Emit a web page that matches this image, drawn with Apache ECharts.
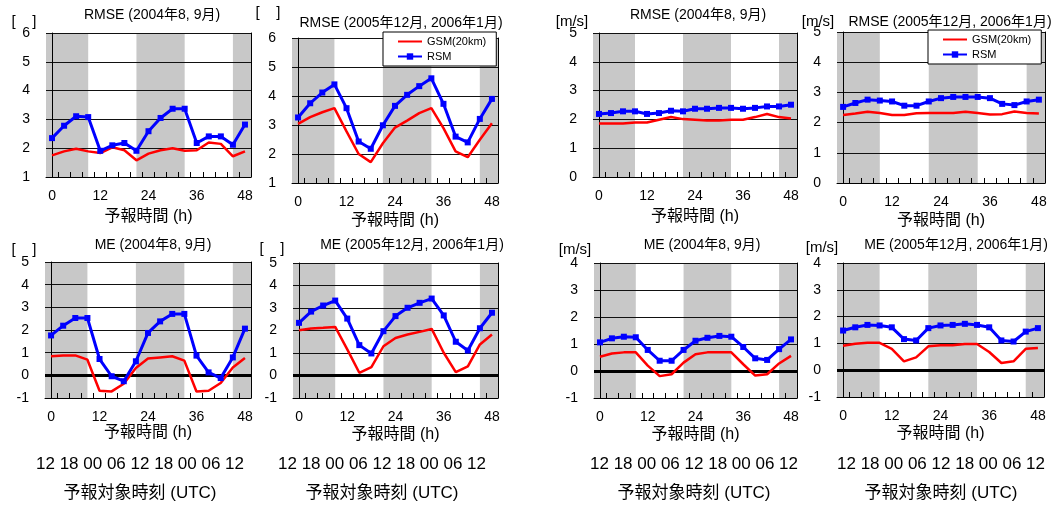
<!DOCTYPE html>
<html>
<head>
<meta charset="utf-8">
<script src="https://cdn.jsdelivr.net/npm/echarts@6/dist/echarts.min.js"></script>
<style>
  html, body { margin: 0; padding: 0; background: #fff; }
  #chart { width: 1064px; height: 506px; }
</style>
</head>
<body>
<div id="chart"></div>
<script>
// forecast hours, every 3h
const hours = [0, 3, 6, 9, 12, 15, 18, 21, 24, 27, 30, 33, 36, 39, 42, 45, 48];
const hourLabels = [0, 12, 24, 36, 48];
const utcLabels = "12 18 00 06 12 18 00 06 12";
// shaded (night) ranges in forecast hours
const nightBands = [[-1.5, 9], [21, 33], [45, 49.5]];

// RMSE, left variable
const rmseSummerGsm = [1.75, 1.89, 1.98, 1.89, 1.83, 2.03, 1.93, 1.58, 1.81, 1.93, 2.00, 1.91, 1.93, 2.20, 2.15, 1.72, 1.89];
const rmseSummerRsm = [2.35, 2.78, 3.11, 3.08, 1.91, 2.10, 2.18, 1.91, 2.59, 3.05, 3.37, 3.37, 2.18, 2.41, 2.41, 2.12, 2.82];
const rmseWinterGsm = [3.04, 3.27, 3.44, 3.58, 2.78, 2.00, 1.72, 2.37, 2.91, 3.15, 3.41, 3.58, 2.89, 2.09, 1.89, 2.49, 3.06];
const rmseWinterRsm = [3.26, 3.75, 4.12, 4.40, 3.58, 2.43, 2.18, 2.99, 3.66, 4.04, 4.34, 4.61, 3.73, 2.60, 2.40, 3.21, 3.90];
// RMSE, wind [m/s]
const windRmseSummerGsm = [1.86, 1.86, 1.86, 1.89, 1.89, 1.99, 2.08, 2.01, 1.99, 1.96, 1.96, 1.99, 1.99, 2.08, 2.19, 2.08, 2.03];
const windRmseSummerRsm = [2.19, 2.22, 2.28, 2.28, 2.19, 2.22, 2.30, 2.28, 2.37, 2.37, 2.40, 2.40, 2.37, 2.40, 2.45, 2.45, 2.51];
const windRmseWinterGsm = [2.25, 2.30, 2.36, 2.32, 2.25, 2.25, 2.31, 2.32, 2.32, 2.32, 2.36, 2.32, 2.27, 2.28, 2.37, 2.32, 2.30];
const windRmseWinterRsm = [2.52, 2.65, 2.76, 2.73, 2.70, 2.56, 2.56, 2.70, 2.81, 2.85, 2.85, 2.85, 2.81, 2.62, 2.58, 2.70, 2.76];
// ME, left variable
const meSummerGsm = [0.84, 0.87, 0.88, 0.69, -0.68, -0.71, -0.37, 0.32, 0.74, 0.79, 0.84, 0.65, -0.71, -0.68, -0.34, 0.35, 0.76];
const meSummerRsm = [1.76, 2.19, 2.53, 2.53, 0.72, -0.04, -0.26, 0.62, 1.87, 2.38, 2.71, 2.71, 0.87, 0.13, -0.12, 0.79, 2.06];
const meWinterGsm = [2.01, 2.09, 2.12, 2.16, 1.16, 0.12, 0.37, 1.30, 1.67, 1.82, 1.94, 2.07, 1.01, 0.15, 0.41, 1.38, 1.82];
const meWinterRsm = [2.34, 2.84, 3.11, 3.33, 2.53, 1.35, 0.98, 1.97, 2.64, 3.01, 3.23, 3.42, 2.67, 1.50, 1.11, 2.10, 2.79];
// ME, wind [m/s]
const windMeSummerGsm = [0.53, 0.65, 0.69, 0.69, 0.20, -0.19, -0.12, 0.31, 0.62, 0.69, 0.69, 0.69, 0.25, -0.17, -0.12, 0.28, 0.56];
const windMeSummerRsm = [1.06, 1.21, 1.27, 1.25, 0.78, 0.38, 0.38, 0.78, 1.12, 1.23, 1.30, 1.27, 0.89, 0.47, 0.41, 0.81, 1.17];
const windMeWinterGsm = [0.91, 0.99, 1.02, 1.02, 0.80, 0.33, 0.48, 0.89, 0.93, 0.93, 0.98, 0.98, 0.68, 0.27, 0.33, 0.80, 0.83];
const windMeWinterRsm = [1.48, 1.60, 1.69, 1.67, 1.60, 1.16, 1.11, 1.57, 1.67, 1.69, 1.73, 1.69, 1.60, 1.11, 1.07, 1.44, 1.57];

const FONT = "'Liberation Sans', 'Noto Sans CJK JP', sans-serif";
const GRAY = '#c8c8c8';

const panels = [
  { title: 'RMSE (2004年8, 9月)', unit: '[    ]', gsm: rmseSummerGsm, rsm: rmseSummerRsm, min: 1, max: 6,
    grid: { left: 46, top: 33, width: 205, height: 144 }, tx: 152, ty: 15, ux: 24, uy: 22, gap: 32 },
  { title: 'RMSE (2005年12月, 2006年1月)', unit: '[    ]', gsm: rmseWinterGsm, rsm: rmseWinterRsm, min: 1, max: 6,
    grid: { left: 292, top: 38, width: 206, height: 145 }, tx: 401, ty: 23, ux: 268, uy: 13, gap: 30, legend: { left: 383, top: 32 } },
  { title: 'RMSE (2004年8, 9月)', unit: '[m/s]', gsm: windRmseSummerGsm, rsm: windRmseSummerRsm, min: 0, max: 5,
    grid: { left: 593, top: 33, width: 204, height: 144 }, tx: 698, ty: 15, ux: 572, uy: 22, gap: 32 },
  { title: 'RMSE (2005年12月, 2006年1月)', unit: '[m/s]', gsm: windRmseWinterGsm, rsm: windRmseWinterRsm, min: 0, max: 5,
    grid: { left: 837, top: 32, width: 208, height: 151 }, tx: 950, ty: 22, ux: 818, uy: 22, gap: 30, legend: { left: 928, top: 30 } },
  { title: 'ME (2004年8, 9月)', unit: '[    ]', gsm: meSummerGsm, rsm: meSummerRsm, min: -1, max: 5, zero: true,
    grid: { left: 45, top: 262, width: 206, height: 136 }, tx: 153, ty: 245, ux: 24, uy: 250, gap: 27 },
  { title: 'ME (2005年12月, 2006年1月)', unit: '[    ]', gsm: meWinterGsm, rsm: meWinterRsm, min: -1, max: 5, zero: true,
    grid: { left: 293, top: 263, width: 205, height: 135 }, tx: 412, ty: 245, ux: 272, uy: 249, gap: 29 },
  { title: 'ME (2004年8, 9月)', unit: '[m/s]', gsm: windMeSummerGsm, rsm: windMeSummerRsm, min: -1, max: 4, zero: true,
    grid: { left: 594, top: 263, width: 203, height: 135 }, tx: 702, ty: 245, ux: 575, uy: 250, gap: 29 },
  { title: 'ME (2005年12月, 2006年1月)', unit: '[m/s]', gsm: windMeWinterGsm, rsm: windMeWinterRsm, min: -1, max: 4, zero: true,
    grid: { left: 837, top: 263, width: 207, height: 134 }, tx: 956, ty: 245, ux: 822, uy: 248, gap: 29 }
];
const bottomCenters = [140, 382, 694, 941];

const boundaryTicks = hours.slice(0, -1).map(h => h + 1.5);
const text = (str, x, y, size) => ({
  type: 'text', x: x, y: y,
  style: { text: str, font: size + 'px ' + FONT, fill: '#000', textAlign: 'center', textVerticalAlign: 'middle' }
});

const grids = [], xAxes = [], yAxes = [], series = [], legends = [], graphics = [];
panels.forEach((p, i) => {
  grids.push(Object.assign({ show: false }, p.grid));
  xAxes.push({
    type: 'value', gridIndex: i, min: -1.5, max: 49.5, z: 2,
    name: '予報時間 (h)', nameLocation: 'middle', nameGap: p.gap,
    nameTextStyle: { fontFamily: FONT, fontSize: 16, color: '#000' },
    axisLine: { show: true, onZero: false, lineStyle: { color: '#000', width: 1 } },
    axisTick: { show: true, inside: true, length: 5, customValues: boundaryTicks, lineStyle: { color: '#000' } },
    axisLabel: { customValues: hourLabels, fontFamily: FONT, fontSize: 14, color: '#000', margin: 12 },
    splitLine: { show: false }
  });
  yAxes.push({
    type: 'value', gridIndex: i, min: p.min, max: p.max, interval: 1, z: 2,
    axisLine: { show: true, lineStyle: { color: '#000' } },
    axisTick: { show: false },
    axisLabel: { fontFamily: FONT, fontSize: 14, color: '#000', margin: 16 },
    splitLine: { show: true, lineStyle: { color: '#111', width: 1 } }
  });
  yAxes.push({
    type: 'value', gridIndex: i, position: 'right', min: p.min, max: p.max, interval: 1, z: 2,
    axisLine: { show: true, lineStyle: { color: '#000' } },
    axisTick: { show: false }, axisLabel: { show: false }, splitLine: { show: false }
  });
  // shading + zero line holder
  series.push({
    type: 'line', xAxisIndex: i, yAxisIndex: i * 2, data: [], silent: true, z: 1,
    markArea: {
      silent: true, itemStyle: { color: GRAY },
      data: nightBands.map(b => [{ xAxis: b[0] }, { xAxis: b[1] }])
    },
    markLine: p.zero ? {
      silent: true, symbol: 'none', z: 2, label: { show: false },
      lineStyle: { color: '#000', width: 3, type: 'solid' },
      data: [{ yAxis: 0 }]
    } : undefined
  });
  series.push({
    name: 'GSM(20km)', type: 'line', xAxisIndex: i, yAxisIndex: i * 2, z: 3,
    data: hours.map((h, k) => [h, p.gsm[k]]),
    symbol: 'none', lineStyle: { color: '#ff0000', width: 2.5 }, itemStyle: { color: '#ff0000' }
  });
  series.push({
    name: 'RSM', type: 'line', xAxisIndex: i, yAxisIndex: i * 2, z: 4,
    data: hours.map((h, k) => [h, p.rsm[k]]),
    symbol: 'rect', symbolSize: 6, lineStyle: { color: '#0000ff', width: 3 }, itemStyle: { color: '#0000ff' }
  });
  if (p.legend) {
    legends.push({
      data: [{ name: 'GSM(20km)', itemStyle: { opacity: 0 } }, 'RSM'],
      orient: 'vertical', left: p.legend.left, top: p.legend.top,
      backgroundColor: '#fff', borderColor: '#000', borderWidth: 1, borderRadius: 0,
      padding: [4, 10, 4, 14], itemWidth: 24, itemHeight: 8, itemGap: 4, selectedMode: false,
      textStyle: { fontFamily: FONT, fontSize: 11, color: '#000' }
    });
  }
  graphics.push(text(p.title, p.tx, p.ty, 14));
  graphics.push(text(p.unit, p.ux, p.uy, 15));
});
bottomCenters.forEach(cx => {
  graphics.push(text(utcLabels, cx, 464, 17));
  graphics.push(text('予報対象時刻 (UTC)', cx, 493, 17));
});

const chart = echarts.init(document.getElementById('chart'));
chart.setOption({
  animation: false,
  backgroundColor: '#fff',
  textStyle: { fontFamily: FONT },
  grid: grids,
  xAxis: xAxes,
  yAxis: yAxes,
  legend: legends,
  series: series,
  graphic: { elements: graphics }
});
</script>
</body>
</html>
